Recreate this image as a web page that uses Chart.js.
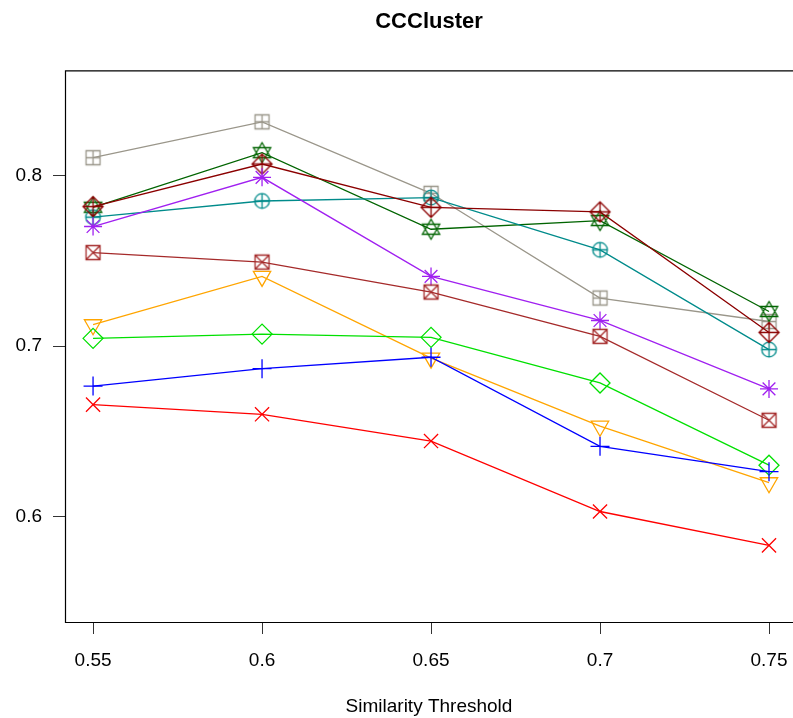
<!DOCTYPE html>
<html>
<head>
<meta charset="utf-8">
<script src="https://cdn.jsdelivr.net/npm/chart.js@4/dist/chart.umd.min.js"></script>
<style>
  html, body { margin: 0; padding: 0; background: #fff; }
  #wrap { width: 793px; height: 718px; }
</style>
</head>
<body>
<div id="wrap"><canvas id="cc_canvas" width="793" height="718"></canvas></div>
<script>
// Daten
const thresholds = [0.55, 0.6, 0.65, 0.7, 0.75];
const xTicks = [0.55, 0.6, 0.65, 0.7, 0.75];
const yTicks = [0.6, 0.7, 0.8];

const redSeries       = [0.6657, 0.6600, 0.6443, 0.6029, 0.5830];
const blueSeries      = [0.6766, 0.6868, 0.6935, 0.6412, 0.6263];
const greenSeries     = [0.7046, 0.7071, 0.7052, 0.6784, 0.6301];
const orangeSeries    = [0.7126, 0.7410, 0.6930, 0.6530, 0.6198];
const brownSeries     = [0.7550, 0.7494, 0.7318, 0.7058, 0.6565];
const purpleSeries    = [0.7703, 0.7992, 0.7410, 0.7151, 0.6749];
const darkredSeries   = [0.7820, 0.8070, 0.7816, 0.7789, 0.7081];
const tealSeries      = [0.7758, 0.7853, 0.7873, 0.7566, 0.6980];
const darkgreenSeries = [0.7816, 0.8137, 0.7687, 0.7738, 0.7204];
const greySeries      = [0.8107, 0.8318, 0.7898, 0.7283, 0.7145];

// zusammengesetzte R-Symbole (pch 7, 9, 10, 11, 12) als kleine Canvas-Bilder
function makeSymbol(color, draw) {
  const c = document.createElement('canvas');
  c.width = 25; c.height = 25;
  const g = c.getContext('2d');
  g.strokeStyle = color;
  g.lineWidth = 1.3;
  g.translate(12.5, 12.5);
  g.beginPath();
  draw(g);
  g.stroke();
  return c;
}

const squareCross = (color) => makeSymbol(color, g => {
  g.rect(-7, -7, 14, 14);
  g.moveTo(-7, -7); g.lineTo(7, 7);
  g.moveTo(7, -7); g.lineTo(-7, 7);
});
const squarePlus = (color) => makeSymbol(color, g => {
  g.rect(-7, -7, 14, 14);
  g.moveTo(0, -7); g.lineTo(0, 7);
  g.moveTo(-7, 0); g.lineTo(7, 0);
});
const diamondPlus = (color) => makeSymbol(color, g => {
  g.moveTo(0, -10); g.lineTo(10, 0); g.lineTo(0, 10); g.lineTo(-10, 0); g.closePath();
  g.moveTo(0, -10); g.lineTo(0, 10);
  g.moveTo(-10, 0); g.lineTo(10, 0);
});
const circlePlus = (color) => makeSymbol(color, g => {
  g.arc(0, 0, 7.3, 0, Math.PI * 2);
  g.moveTo(0, -7.3); g.lineTo(0, 7.3);
  g.moveTo(-7.3, 0); g.lineTo(7.3, 0);
});
const starDavid = (color) => makeSymbol(color, g => {
  const r = 10, h = r * Math.sqrt(3) / 2;
  g.moveTo(0, -r); g.lineTo(h, r / 2); g.lineTo(-h, r / 2); g.closePath();
  g.moveTo(0, r); g.lineTo(h, -r / 2); g.lineTo(-h, -r / 2); g.closePath();
});

function series(label, values, color, pointStyle, radius, rotation) {
  return {
    label: label,
    data: thresholds.map((x, i) => ({ x: x, y: values[i] })),
    borderColor: color,
    backgroundColor: 'transparent',
    borderWidth: 1.3,
    pointStyle: pointStyle,
    pointRadius: radius,
    pointHoverRadius: radius,
    pointBorderWidth: 1.3,
    pointBorderColor: color,
    pointBackgroundColor: 'transparent',
    pointRotation: rotation || 0,
    tension: 0,
    fill: false
  };
}

// Rahmen wie in R (box), rechte Kante liegt ausserhalb des Bildes
const boxPlugin = {
  id: 'box',
  afterDatasetsDraw(chart) {
    const a = chart.chartArea, ctx = chart.ctx;
    ctx.save();
    ctx.strokeStyle = '#000';
    ctx.lineWidth = 1.2;
    ctx.beginPath();
    ctx.moveTo(a.right + 5, a.top + 0.5);
    ctx.lineTo(a.left + 0.5, a.top + 0.5);
    ctx.lineTo(a.left + 0.5, a.bottom + 0.5);
    ctx.lineTo(a.right + 5, a.bottom + 0.5);
    ctx.stroke();
    ctx.restore();
  }
};

const ctx = document.getElementById('cc_canvas');
new Chart(ctx, {
  type: 'line',
  data: {
    datasets: [
      series('1', redSeries, '#FF0000', 'crossRot', 10),
      series('2', blueSeries, '#0000FF', 'cross', 9.5),
      series('3', greenSeries, '#00E000', 'rectRot', 10),
      series('4', orangeSeries, '#FFA500', 'triangle', 10, 180),
      series('5', brownSeries, '#A52A2A', squareCross('#A52A2A'), 8),
      series('6', purpleSeries, '#A020F0', 'star', 9),
      series('7', darkredSeries, '#8B0000', diamondPlus('#8B0000'), 8),
      series('8', tealSeries, '#008B8B', circlePlus('#008B8B'), 8),
      series('9', darkgreenSeries, '#006400', starDavid('#006400'), 8),
      series('10', greySeries, '#9A968A', squarePlus('#9A968A'), 8)
    ]
  },
  options: {
    responsive: false,
    animation: false,
    layout: { autoPadding: false, padding: 0 },
    plugins: {
      legend: { display: false },
      tooltip: { enabled: false },
      title: {
        display: true,
        text: 'CCCluster',
        fullSize: false,
        color: '#000',
        font: { family: 'Liberation Sans', size: 22, weight: 'bold', lineHeight: 1.2 },
        padding: { top: 9, bottom: 35 }
      }
    },
    scales: {
      x: {
        type: 'linear',
        min: 0.5417,
        max: 0.7571,
        afterBuildTicks: s => { s.ticks = xTicks.map(v => ({ value: v })); },
        afterFit: s => { s.height = 96; s.paddingLeft = 0; s.paddingRight = 0; },
        border: { display: false },
        grid: { drawOnChartArea: false, drawTicks: true, tickLength: 12, color: '#333', lineWidth: 1 },
        ticks: {
          color: '#000',
          padding: 15,
          maxRotation: 0,
          font: { family: 'Liberation Sans', size: 19 },
          callback: v => String(+v.toFixed(2))
        },
        title: {
          display: true,
          text: 'Similarity Threshold',
          color: '#000',
          font: { family: 'Liberation Sans', size: 19, lineHeight: 1.2 },
          padding: { top: 0, bottom: 0 }
        }
      },
      y: {
        type: 'linear',
        min: 0.538,
        max: 0.862,
        afterBuildTicks: s => { s.ticks = yTicks.map(v => ({ value: v })); },
        afterFit: s => { s.width = 65; s.paddingTop = 0; s.paddingBottom = 0; },
        border: { display: false },
        grid: { drawOnChartArea: false, drawTicks: true, tickLength: 12, color: '#333', lineWidth: 1 },
        ticks: {
          color: '#000',
          padding: 11,
          font: { family: 'Liberation Sans', size: 19 },
          callback: v => String(+v.toFixed(1))
        }
      }
    }
  },
  plugins: [boxPlugin]
});
</script>
</body>
</html>
